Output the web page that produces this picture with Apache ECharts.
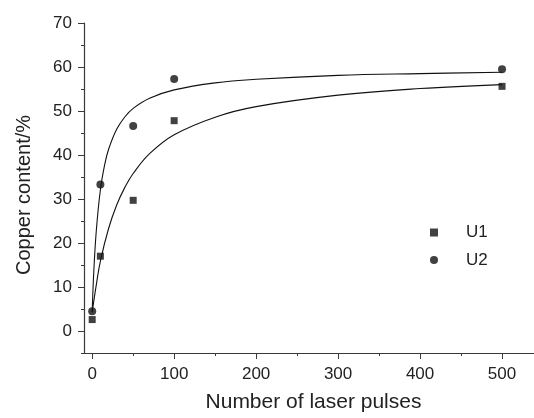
<!DOCTYPE html>
<html>
<head>
<meta charset="utf-8">
<script src="https://cdn.jsdelivr.net/npm/echarts@6/dist/echarts.min.js"></script>
<style>html,body{margin:0;padding:0;background:#fff;}#c{width:534px;height:418px;}</style>
</head>
<body>
<div id="c"></div>
<script>
// Measured points
const pulses = [0, 10, 50, 100, 500];
const u1Values = [2.6, 17.0, 29.7, 47.8, 55.6];
const u2Values = [4.5, 33.3, 46.6, 57.3, 59.5];
// Fitted curves
const u1CurveX = [0, 5, 10, 20, 30, 40, 50, 70, 100, 150, 200, 300, 400, 500];
const u1CurveY = [4.3, 10.5, 15.9, 23.3, 28.7, 32.7, 35.8, 40.3, 44.6, 48.6, 51.0, 53.6, 55.1, 56.0];
const u2CurveX = [0, 2, 5, 10, 15, 20, 30, 40, 50, 70, 100, 150, 200, 300, 400, 500];
const u2CurveY = [4.5, 13.7, 22.8, 32.1, 37.6, 41.3, 45.9, 48.7, 50.6, 52.9, 54.8, 56.4, 57.2, 58.1, 58.5, 58.8];
const xTicks = [0, 100, 200, 300, 400, 500];
const xMinorTicks = [50, 150, 250, 350, 450];
const yTicks = [0, 10, 20, 30, 40, 50, 60, 70];
const yMinorTicks = [-5, 5, 15, 25, 35, 45, 55, 65];
const seriesNames = ['U1', 'U2'];

const zip = (xs, ys) => xs.map((x, i) => [x, ys[i]]);
const axisColor = '#3a3a3a';
const font = 'Liberation Sans, Arial, sans-serif';
const X_MIN = -10, X_MAX = 539, Y_MIN = -5, Y_MAX = 70;

const chart = echarts.init(document.getElementById('c'), null, {renderer: 'canvas'});
chart.setOption({
  animation: false,
  backgroundColor: '#fff',
  grid: {left: 84, top: 23, width: 450, height: 336, containLabel: false},
  legend: {
    orient: 'vertical', left: 425, top: 219, itemGap: 10.5, itemWidth: 8, itemHeight: 8,
    data: [{name: seriesNames[0], icon: 'rect'}, {name: seriesNames[1], icon: 'circle'}],
    textStyle: {fontFamily: font, fontSize: 17, color: '#222', padding: [0, 0, 0, 23]}
  },
  xAxis: [{
    type: 'value', min: X_MIN, max: X_MAX,
    name: 'Number of laser pulses', nameLocation: 'middle', nameGap: 39,
    nameTextStyle: {fontFamily: font, fontSize: 21, color: '#222', padding: [0, 0, 0, 9]},
    axisLine: {show: true, onZero: false, lineStyle: {color: axisColor, width: 1.2}},
    axisTick: {show: true, inside: false, length: 6, lineStyle: {color: axisColor}, customValues: xTicks},
    minorTick: {show: false},
    splitLine: {show: false},
    axisLabel: {fontFamily: font, fontSize: 17, color: '#222', margin: 13, customValues: xTicks}
  }, {
    type: 'value', min: X_MIN, max: X_MAX, position: 'bottom', offset: 0,
    axisLine: {show: false, onZero: false},
    axisTick: {show: true, inside: false, length: 3, lineStyle: {color: axisColor}, customValues: xMinorTicks},
    axisLabel: {show: false},
    splitLine: {show: false}
  }],
  yAxis: [{
    type: 'value', min: Y_MIN, max: Y_MAX,
    name: 'Copper content/%', nameLocation: 'middle', nameGap: 50, nameRotate: 90,
    nameTextStyle: {fontFamily: font, fontSize: 20, color: '#222', padding: [0, 14, 0, 0]},
    axisLine: {show: true, onZero: false, lineStyle: {color: axisColor, width: 1.2}},
    axisTick: {show: true, inside: false, length: 6, lineStyle: {color: axisColor}, customValues: yTicks},
    minorTick: {show: false},
    splitLine: {show: false},
    axisLabel: {fontFamily: font, fontSize: 17, color: '#222', margin: 12, customValues: yTicks}
  }, {
    type: 'value', min: Y_MIN, max: Y_MAX, position: 'left', offset: 0,
    axisLine: {show: false, onZero: false},
    axisTick: {show: true, inside: false, length: 3, lineStyle: {color: axisColor}, customValues: yMinorTicks},
    axisLabel: {show: false},
    splitLine: {show: false}
  }],
  series: [
    {name: seriesNames[0], type: 'scatter', symbol: 'rect', symbolSize: 7,
     itemStyle: {color: '#111'}, data: zip(pulses, u1Values), z: 5},
    {name: seriesNames[1], type: 'scatter', symbol: 'circle', symbolSize: 8,
     itemStyle: {color: '#111'}, data: zip(pulses, u2Values), z: 5},
    {name: 'U1 fit', type: 'line', smooth: 0.4, showSymbol: false, symbol: 'none',
     lineStyle: {color: '#111', width: 1.1}, data: zip(u1CurveX, u1CurveY)},
    {name: 'U2 fit', type: 'line', smooth: 0.4, showSymbol: false, symbol: 'none',
     lineStyle: {color: '#111', width: 1.1}, data: zip(u2CurveX, u2CurveY)}
  ]
});
</script>
</body>
</html>
